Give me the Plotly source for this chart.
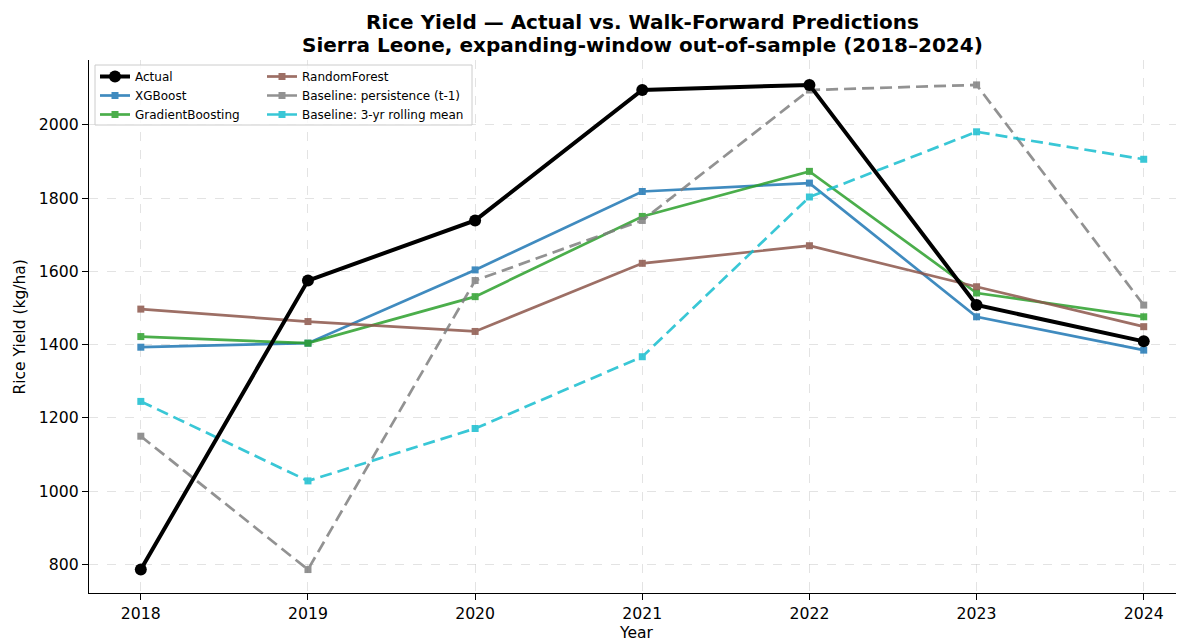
import plotly.graph_objects as go

years = [2018, 2019, 2020, 2021, 2022, 2023, 2024]
actual = [786, 1575, 1739, 2095, 2109, 1508, 1409]
xgboost = [1393, 1404, 1604, 1818, 1841, 1476, 1385]
gradient_boosting = [1422, 1404, 1531, 1750, 1873, 1541, 1476]
random_forest = [1497, 1463, 1436, 1622, 1670, 1558, 1449]
persistence = [1150, 786, 1575, 1739, 2095, 2109, 1508]
rolling_mean = [1245, 1028, 1171, 1367, 1803, 1981, 1906]
y_ticks = [800, 1000, 1200, 1400, 1600, 1800, 2000]

FONT = "DejaVu Sans"
fig = go.Figure()

def add(name, ys, color, dash, legend, rank, width=2.7, symbol="square", size=7, opacity=0.85):
    fig.add_trace(go.Scatter(
        x=years, y=ys, name=name, mode="lines+markers",
        line=dict(color=color, width=width, dash=dash),
        marker=dict(symbol=symbol, size=size, color=color, line=dict(width=0)),
        opacity=opacity, legend=legend, legendrank=rank,
    ))

add("XGBoost", xgboost, "#1f77b4", "solid", "legend", 2)
add("GradientBoosting", gradient_boosting, "#2ca02c", "solid", "legend", 3)
add("RandomForest", random_forest, "#8c564b", "solid", "legend2", 1)
add("Baseline: persistence (t-1)", persistence, "#7f7f7f", "12px,6px", "legend2", 2)
add("Baseline: 3-yr rolling mean", rolling_mean, "#17becf", "12px,6px", "legend2", 3)
add("Actual", actual, "#000000", "solid", "legend", 1, width=4, symbol="circle", size=12, opacity=1)

# page has an 8px body margin; figure is offset by it
OFF = 8
W, H = 1184 - OFF, 642 - OFF
L, R, T, B = 89 - OFF, 1, 60 - OFF, 49
pw, ph = W - L - R, H - T - B

def px_x(p):  # page pixel -> paper x
    return (p - OFF - L) / pw

def px_y(p):  # page pixel -> paper y
    return 1 - (p - OFF - T) / ph

legend_common = dict(
    bgcolor="rgba(0,0,0,0)", borderwidth=0,
    font=dict(family=FONT, size=12, color="#000"),
    orientation="v", xanchor="left", yanchor="top",
    tracegroupgap=0, itemwidth=30,
)

grid = "rgba(200,200,200,0.5)"
fig.update_layout(
    width=W, height=H,
    margin=dict(l=L, r=R, t=T, b=B, autoexpand=False),
    paper_bgcolor="white", plot_bgcolor="white",
    font=dict(family=FONT, size=15.7, color="#000"),
    xaxis=dict(
        range=[2017.69, 2024.235], tickvals=years, ticktext=[str(y) for y in years],
        showline=True, linecolor="#000", linewidth=1.2,
        ticks="outside", ticklen=6, tickwidth=1.2, tickcolor="#000",
        showgrid=True, gridcolor=grid, griddash="dash", gridwidth=1,
        zeroline=False, tickfont=dict(size=15.7),
    ),
    yaxis=dict(
        range=[722, 2177], tickvals=y_ticks,
        showline=True, linecolor="#000", linewidth=1.2,
        ticks="outside", ticklen=6, tickwidth=1.2, tickcolor="#000",
        showgrid=True, gridcolor=grid, griddash="dash", gridwidth=1,
        zeroline=False, tickfont=dict(size=15.7),
    ),
    legend=dict(x=px_x(95), y=px_y(62), **legend_common),
    legend2=dict(x=px_x(262), y=px_y(62), **legend_common),
    showlegend=True,
)

# titles and axis titles as annotations (page-pixel positioned)
title_lines = [
    ("Rice Yield — Actual vs. Walk-Forward Predictions", 22),
    ("Sierra Leone, expanding-window out-of-sample (2018–2024)", 45),
]
for txt, yy in title_lines:
    fig.add_annotation(
        text=f"<b>{txt}</b>", xref="paper", yref="paper",
        x=px_x(642), y=px_y(yy), xanchor="center", yanchor="middle",
        showarrow=False, font=dict(family=FONT, size=20, color="#000"),
    )
fig.add_annotation(
    text="Year", xref="paper", yref="paper",
    x=px_x(636), y=px_y(633), xanchor="center", yanchor="middle",
    showarrow=False, font=dict(family=FONT, size=15.5, color="#000"),
)
fig.add_annotation(
    text="Rice Yield (kg/ha)", xref="paper", yref="paper", textangle=-90,
    x=px_x(19.5), y=px_y(327), xanchor="center", yanchor="middle",
    showarrow=False, font=dict(family=FONT, size=15.5, color="#000"),
)

# legend frame
fig.add_shape(
    type="rect", xref="paper", yref="paper",
    x0=px_x(95), x1=px_x(472), y0=px_y(125), y1=px_y(65),
    line=dict(color="#cccccc", width=1), fillcolor="rgba(255,255,255,0.8)",
    layer="above",
)

fig.write_html("out.html", post_script="document.body.style.overflow='hidden';")
